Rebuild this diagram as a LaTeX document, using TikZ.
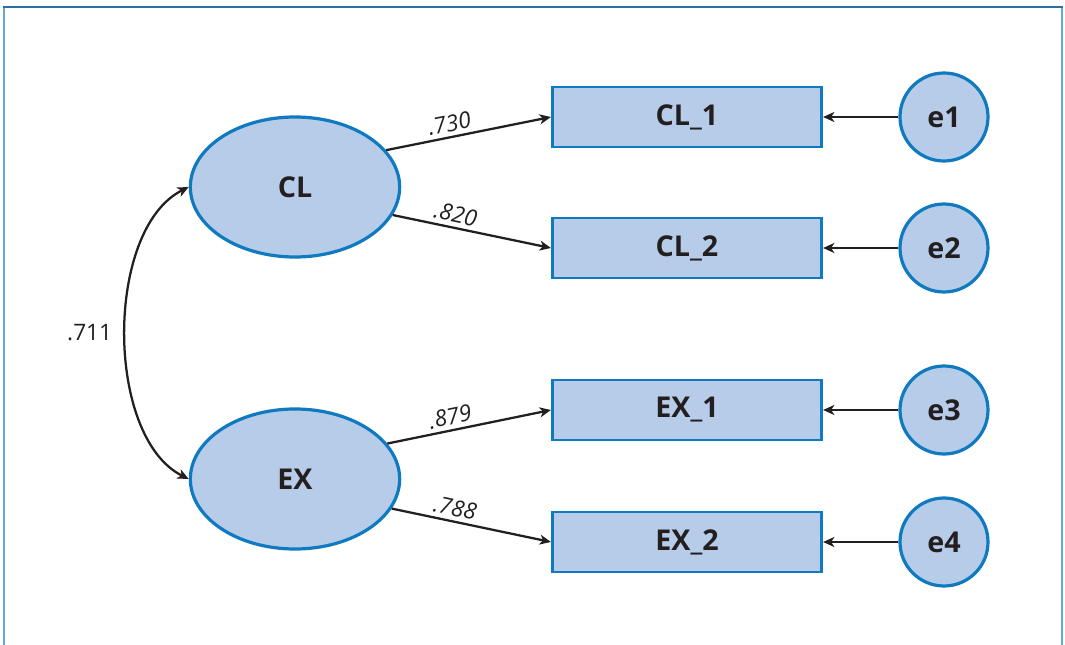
\documentclass[tikz,border=0pt]{standalone}
\usepackage{fontspec}
\setmainfont{Open Sans}
\usetikzlibrary{arrows.meta,shapes.geometric}
\definecolor{fillblue}{HTML}{B7CCE8}
\definecolor{edgeblue}{HTML}{0F7AC0}
\definecolor{frametop}{HTML}{2B6EA6}
\definecolor{frameside}{HTML}{62AADB}
\definecolor{ink}{HTML}{231F20}
\tikzset{
  latent/.style={ellipse, draw=edgeblue, fill=fillblue, line width=2.4pt,
    minimum width=157pt, minimum height=105pt, inner sep=0pt,
    font=\fontsize{21.5}{25}\selectfont\bfseries, text=ink},
  observed/.style={rectangle, draw=edgeblue, fill=fillblue, line width=2.1pt,
    minimum width=202pt, minimum height=45pt, inner sep=0pt,
    font=\fontsize{21.5}{25}\selectfont\bfseries, text=ink},
  errnode/.style={circle, draw=edgeblue, fill=fillblue, line width=2.4pt,
    minimum size=66pt, inner sep=0pt,
    font=\fontsize{21.5}{25}\selectfont\bfseries, text=ink},
  conn/.style={draw=ink, line width=1.7pt, -{Stealth[length=8.5pt,width=7.5pt,inset=2.5pt]}},
  biconn/.style={draw=ink, line width=1.7pt, {Stealth[length=8.5pt,width=7.5pt,inset=2.5pt]}-{Stealth[length=8.5pt,width=7.5pt,inset=2.5pt]}},
  wlabel/.style={font=\fontsize{17}{20}\selectfont\itshape, text=ink, inner sep=1pt},
  clabel/.style={font=\fontsize{17}{20}\selectfont, text=ink, inner sep=1pt}
}
\begin{document}
\begin{tikzpicture}[x=0.75pt,y=-0.75pt]
\useasboundingbox (0,0) rectangle (1065,645);
% frame
\draw[frameside, line width=1.3pt] (4,7) -- (4,645);
\draw[frameside, line width=1.3pt] (1062,7) -- (1062,645);
\draw[frametop, line width=1.5pt] (3,7) -- (1063,7);
% latent variables
\node[latent] (CL) at (295,187) {CL};
\node[latent] (EX) at (295,479) {EX};
% observed
\node[observed] (CL1) at (687,117) {CL\_1};
\node[observed] (CL2) at (687,248) {CL\_2};
\node[observed] (EX1) at (687,410) {EX\_1};
\node[observed] (EX2) at (687,542) {EX\_2};
% errors
\node[errnode] (e1) at (944,117) {e1};
\node[errnode] (e2) at (944,248) {e2};
\node[errnode] (e3) at (944,410) {e3};
\node[errnode] (e4) at (944,542) {e4};
% loadings
\draw[conn] (CL.22) -- node[wlabel, pos=0.4, above=2pt, sloped] {.730} (CL1.west);
\draw[conn] (CL.-16) -- node[wlabel, pos=0.38, above=2pt, sloped] {.820} (CL2.west);
\draw[conn] (EX.21) -- node[wlabel, pos=0.4, above=2pt, sloped] {.879} (EX1.west);
\draw[conn] (EX.-17) -- node[wlabel, pos=0.38, above=2pt, sloped] {.788} (EX2.west);
% errors to observed
\draw[conn] (e1) -- (CL1.east);
\draw[conn] (e2) -- (CL2.east);
\draw[conn] (e3) -- (EX1.east);
\draw[conn] (e4) -- (EX2.east);
% covariance
\draw[biconn] (CL.west) .. controls +(-84,42) and +(-84,-42) .. (EX.west)
  coordinate[pos=0.5] (mid);
\node[clabel, anchor=east] (cov) at ([xshift=-9]mid) {.711};
\end{tikzpicture}
\end{document}
